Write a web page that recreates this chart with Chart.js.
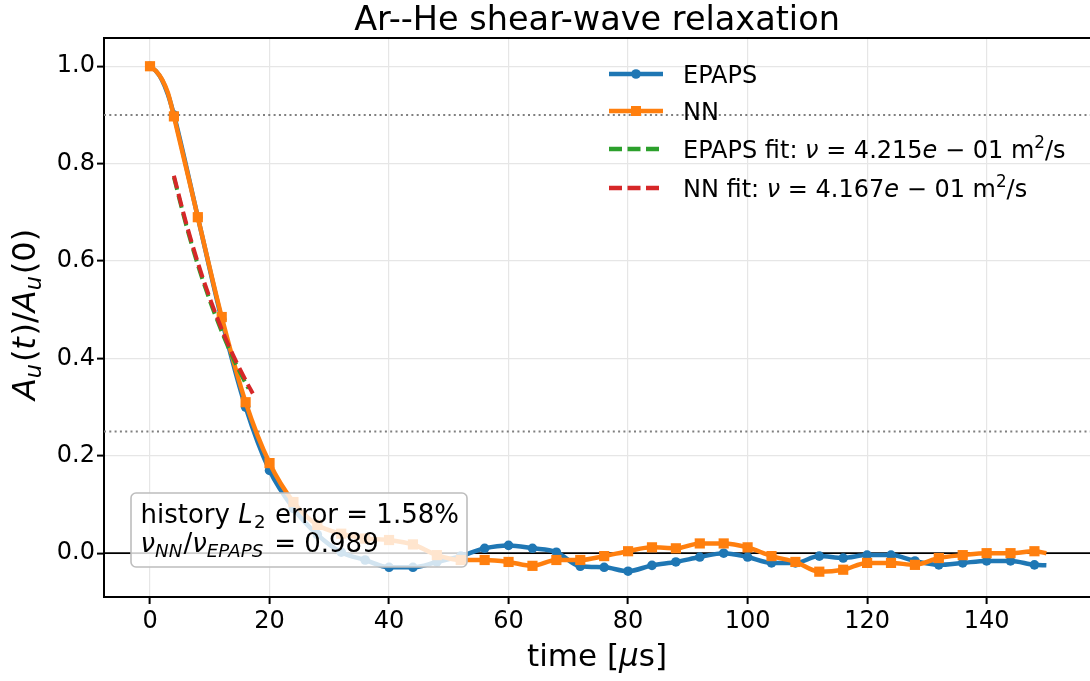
<!DOCTYPE html>
<html>
<head>
<meta charset="utf-8">
<script src="https://cdn.jsdelivr.net/npm/chart.js@4.4.1/dist/chart.umd.min.js"></script>
<style>
  html, body { margin: 0; padding: 0; background: #fff; overflow: hidden; }
  #wrap { width: 1090px; height: 681px; }
  canvas { display: block; }
</style>
</head>
<body>
<div id="wrap"><canvas id="relax" width="1090" height="681"></canvas></div>
<script>
// tiempos de muestreo [µs]
const times = [0, 1, 2, 3,
  4, 8, 12, 16, 20, 24, 28, 32, 36, 40,
  44, 48, 52, 56, 60, 64, 68, 72, 76, 80,
  84, 88, 92, 96, 100, 104, 108, 112, 116, 120,
  124, 128, 132, 136, 140, 144, 148, 150];

// amplitud normalizada A_u(t)/A_u(0)
const epapsVals = [1.000, 0.990, 0.972, 0.942,
  0.900, 0.690, 0.480, 0.300, 0.170, 0.092, 0.038, 0.002, -0.014, -0.029,
  -0.029, -0.018, -0.006, 0.010, 0.016, 0.010, 0.002, -0.027, -0.029, -0.037,
  -0.025, -0.018, -0.008, 0.000, -0.008, -0.020, -0.020, -0.006, -0.010, -0.004,
  -0.004, -0.016, -0.024, -0.020, -0.016, -0.016, -0.024, -0.025];

const nnVals = [1.000, 0.990, 0.973, 0.945,
  0.897, 0.690, 0.485, 0.310, 0.185, 0.105, 0.058, 0.040, 0.030, 0.027,
  0.018, -0.004, -0.014, -0.014, -0.018, -0.026, -0.014, -0.014, -0.006, 0.004,
  0.012, 0.010, 0.020, 0.020, 0.012, -0.006, -0.018, -0.038, -0.034, -0.020,
  -0.020, -0.024, -0.010, -0.004, 0.000, 0.000, 0.004, 0.000];

// ajustes exponenciales
const fitTimesEpaps = [4, 6, 8, 10, 12, 14, 16, 16.5];
const fitEpaps = [0.772, 0.676, 0.592, 0.519, 0.455, 0.398, 0.349, 0.338];
const fitTimesNN = [4, 6, 8, 10, 12, 14, 16, 17.2];
const fitNN = [0.775, 0.680, 0.597, 0.524, 0.460, 0.404, 0.355, 0.328];

const xTicks = [0, 20, 40, 60, 80, 100, 120, 140];
const yTicks = [0.0, 0.2, 0.4, 0.6, 0.8, 1.0];
const refLevels = [0.9, 0.25];

const FONT = '"DejaVu Sans", sans-serif';
const BLUE = '#1f77b4', ORANGE = '#ff7f0e', GREEN = '#2ca02c', RED = '#d62728';

function toXY(xs, ys) {
  return xs.map((x, i) => ({ x: x, y: ys[i] }));
}

// texto con cursiva / subíndices / superíndices (estilo mathtext)
function segFont(s, size) {
  const sz = (s.sub || s.sup) ? size * 0.7 : size;
  return (s.it ? 'italic ' : '') + sz + 'px ' + FONT;
}
function segWidth(ctx, s, size) {
  ctx.font = segFont(s, size);
  return ctx.measureText(s.t).width + (s.gap || 0) * size;
}
function drawRich(ctx, segs, x, y, size, align) {
  let cx = x;
  if (align === 'center') {
    cx -= segs.reduce((w, s) => w + segWidth(ctx, s, size), 0) / 2;
  }
  ctx.textAlign = 'left';
  ctx.textBaseline = 'alphabetic';
  segs.forEach(s => {
    ctx.font = segFont(s, size);
    const dy = s.sub ? size * 0.2 : (s.sup ? -size * 0.4 : 0);
    ctx.fillText(s.t, cx, y + dy);
    cx += segWidth(ctx, s, size);
  });
}

const legendRows = [
  { color: BLUE, marker: 'circle', dash: [], segs: [{ t: 'EPAPS' }] },
  { color: ORANGE, marker: 'rect', dash: [], segs: [{ t: 'NN' }] },
  { color: GREEN, marker: null, dash: [13, 5.5], segs: [
    { t: 'EPAPS fit: ' }, { t: 'ν', it: true }, { t: ' = 4.215' }, { t: 'e', it: true },
    { t: ' − 01 m' }, { t: '2', sup: true }, { t: '/s' }] },
  { color: RED, marker: null, dash: [13, 5.5], segs: [
    { t: 'NN fit: ' }, { t: 'ν', it: true }, { t: ' = 4.167' }, { t: 'e', it: true },
    { t: ' − 01 m' }, { t: '2', sup: true }, { t: '/s' }] }
];

const decorPlugin = {
  id: 'decor',
  beforeDatasetsDraw(chart) {
    const { ctx, chartArea: ca, scales } = chart;
    ctx.save();
    ctx.beginPath();
    ctx.rect(ca.left, ca.top, ca.right - ca.left, ca.bottom - ca.top);
    ctx.clip();
    // línea de cero
    const y0 = scales.y.getPixelForValue(0);
    ctx.strokeStyle = '#000';
    ctx.lineWidth = 1.8;
    ctx.beginPath(); ctx.moveTo(ca.left, y0); ctx.lineTo(ca.right, y0); ctx.stroke();
    // umbrales punteados
    ctx.strokeStyle = '#808080';
    ctx.lineWidth = 2;
    ctx.setLineDash([2, 3.3]);
    refLevels.forEach(v => {
      const yy = scales.y.getPixelForValue(v);
      ctx.beginPath(); ctx.moveTo(ca.left, yy); ctx.lineTo(ca.right, yy); ctx.stroke();
    });
    ctx.restore();
  },
  afterDatasetsDraw(chart) {
    const { ctx, chartArea: ca } = chart;
    ctx.save();
    // caja de texto
    const bx = ca.left + 27, by = ca.top + 455, bw = 336, bh = 74, r = 5;
    ctx.beginPath();
    ctx.roundRect(bx, by, bw, bh, r);
    ctx.fillStyle = 'rgba(255,255,255,0.8)';
    ctx.fill();
    ctx.strokeStyle = '#bdbdbd';
    ctx.lineWidth = 1.6;
    ctx.stroke();
    ctx.fillStyle = '#000';
    drawRich(ctx, [{ t: 'history ' }, { t: 'L', it: true, gap: 0.05 }, { t: '2', sub: true, gap: 0.05 },
      { t: ' error = 1.58%' }], bx + 9.5, by + 30, 26);
    drawRich(ctx, [{ t: 'ν', it: true }, { t: 'NN', it: true, sub: true, gap: 0.05 }, { t: '/' },
      { t: 'ν', it: true }, { t: 'EPAPS', it: true, sub: true, gap: 0.1 }, { t: ' = 0.989' }],
      bx + 9.5, by + 59, 26);

    // leyenda
    const hx0 = ca.right - 481, hx1 = ca.right - 427, tx = ca.right - 407;
    const rowOff = [36, 73, 111, 150];
    legendRows.forEach((row, i) => {
      const yy = ca.top + rowOff[i];
      ctx.strokeStyle = row.color;
      ctx.lineWidth = 4.5;
      ctx.setLineDash(row.dash);
      ctx.beginPath(); ctx.moveTo(hx0, yy); ctx.lineTo(hx1, yy); ctx.stroke();
      ctx.setLineDash([]);
      ctx.fillStyle = row.color;
      const mx = (hx0 + hx1) / 2;
      if (row.marker === 'circle') {
        ctx.beginPath(); ctx.arc(mx, yy, 4.8, 0, Math.PI * 2); ctx.fill();
      } else if (row.marker === 'rect') {
        ctx.fillRect(mx - 5, yy - 5, 10, 10);
      }
      ctx.fillStyle = '#000';
      drawRich(ctx, row.segs, tx, yy + 8.7, 24);
    });
    ctx.restore();
  },
  afterDraw(chart) {
    const { ctx, chartArea: ca } = chart;
    ctx.save();
    // borde superior
    ctx.strokeStyle = '#000';
    ctx.lineWidth = 2;
    ctx.beginPath(); ctx.moveTo(ca.left - 1, ca.top); ctx.lineTo(ca.right, ca.top); ctx.stroke();
    ctx.fillStyle = '#000';
    const cx = (ca.left + ca.right) / 2;
    drawRich(ctx, [{ t: 'Ar--He shear-wave relaxation' }], cx, 30, 33.5, 'center');
    drawRich(ctx, [{ t: 'time [' }, { t: 'μ', it: true }, { t: 's]' }], cx, 666, 31, 'center');
    // título eje y (rotado)
    ctx.translate(35, (ca.top + ca.bottom) / 2 - 3);
    ctx.rotate(-Math.PI / 2);
    drawRich(ctx, [{ t: 'A', it: true }, { t: 'u', it: true, sub: true, gap: 0.06 }, { t: '(' },
      { t: 't', it: true, gap: 0.05 }, { t: ')/' }, { t: 'A', it: true }, { t: 'u', it: true, sub: true, gap: 0.06 },
      { t: '(0)' }], 0, 0, 32, 'center');
    ctx.restore();
  }
};

const markerRadius = r => ctx => (times[ctx.dataIndex] % 4 === 0 && times[ctx.dataIndex] <= 148 ? r : 0);

const chart = new Chart(document.getElementById('relax').getContext('2d'), {
  type: 'line',
  data: {
    datasets: [
      {
        label: 'EPAPS',
        data: toXY(times, epapsVals),
        borderColor: BLUE,
        backgroundColor: BLUE,
        borderWidth: 4.5,
        pointStyle: 'circle',
        pointRadius: markerRadius(4.8),
        pointBorderWidth: 0,
        cubicInterpolationMode: 'monotone',
        order: 4
      },
      {
        label: 'NN',
        data: toXY(times, nnVals),
        borderColor: ORANGE,
        backgroundColor: ORANGE,
        borderWidth: 4.5,
        pointStyle: 'rect',
        pointRadius: markerRadius(7.2),
        pointBorderWidth: 0,
        cubicInterpolationMode: 'monotone',
        order: 3
      },
      {
        label: 'EPAPS fit',
        data: toXY(fitTimesEpaps, fitEpaps),
        borderColor: GREEN,
        borderWidth: 4,
        borderDash: [13, 5.5],
        pointRadius: 0,
        tension: 0.3,
        order: 2
      },
      {
        label: 'NN fit',
        data: toXY(fitTimesNN, fitNN),
        borderColor: RED,
        borderWidth: 4,
        borderDash: [13, 5.5],
        pointRadius: 0,
        tension: 0.3,
        order: 1
      }
    ]
  },
  options: {
    responsive: false,
    animation: false,
    events: [],
    layout: { autoPadding: false, padding: { top: 38, right: 0, bottom: 0, left: 0 } },
    plugins: {
      legend: { display: false },
      tooltip: { enabled: false },
      title: { display: false }
    },
    scales: {
      x: {
        type: 'linear',
        min: -7.7,
        max: 157.3,
        afterFit: s => { s.height = 84; s.paddingLeft = 0; s.paddingRight = 0; },
        afterBuildTicks: s => { s.ticks = xTicks.map(v => ({ value: v })); },
        ticks: {
          color: '#000',
          font: { family: FONT, size: 24 },
          padding: 3,
          maxRotation: 0,
          autoSkip: false
        },
        grid: { color: '#e6e6e6', lineWidth: 1.2, tickColor: '#000', tickLength: 7, tickWidth: 2 },
        border: { color: '#000', width: 2 }
      },
      y: {
        type: 'linear',
        min: -0.09,
        max: 1.058,
        afterFit: s => { s.width = 104; s.paddingTop = 0; s.paddingBottom = 0; },
        afterBuildTicks: s => { s.ticks = yTicks.map(v => ({ value: v })); },
        ticks: {
          color: '#000',
          font: { family: FONT, size: 24 },
          padding: 2,
          autoSkip: false,
          callback: v => v.toFixed(1)
        },
        grid: { color: '#e6e6e6', lineWidth: 1.2, tickColor: '#000', tickLength: 7, tickWidth: 2 },
        border: { color: '#000', width: 2 }
      }
    }
  },
  plugins: [decorPlugin]
});
</script>
</body>
</html>
